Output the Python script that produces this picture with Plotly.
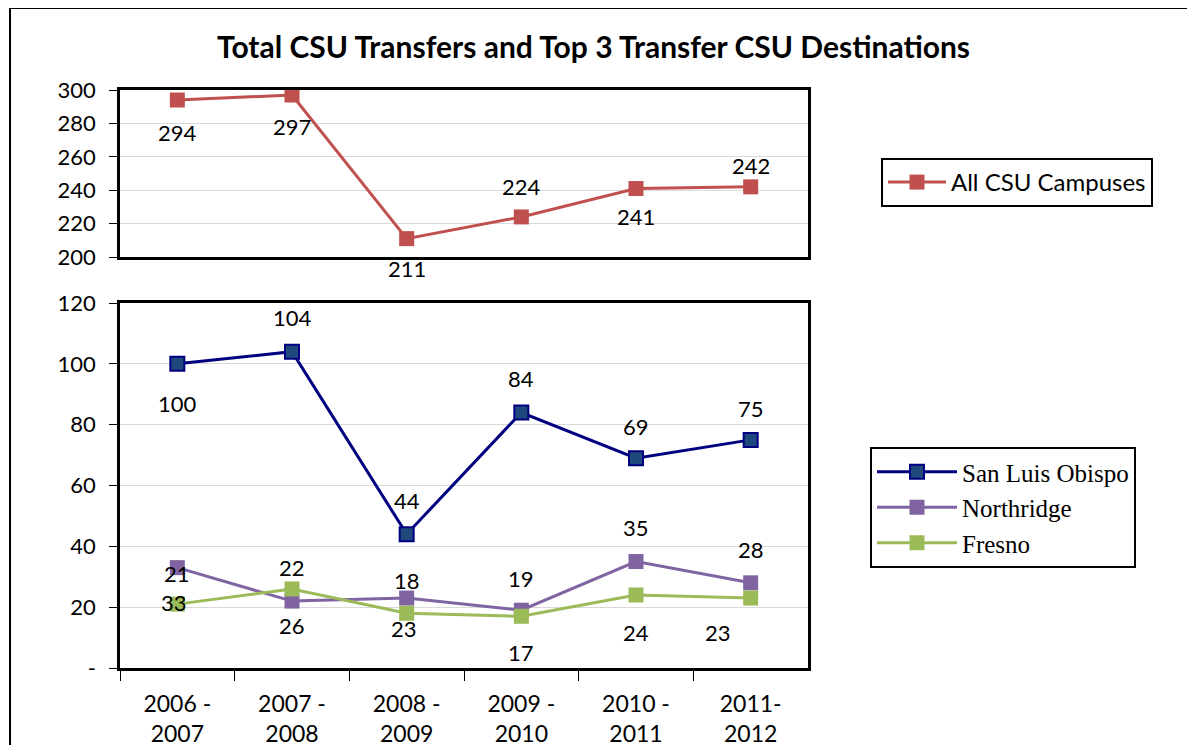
import plotly.graph_objects as go

# ---- data ----
years = ["2006 -<br>2007", "2007 -<br>2008", "2008 -<br>2009",
         "2009 -<br>2010", "2010 -<br>2011", "2011-<br>2012"]
all_csu = [294, 297, 211, 224, 241, 242]
slo = [100, 104, 44, 84, 69, 75]
northridge = [33, 22, 23, 19, 35, 28]
fresno = [21, 26, 18, 17, 24, 23]

# label offsets (pixels, + is up) copying the Excel label placement
all_shift = [-32, -31, -30, 30, -28, 21]
slo_shift = [-40, 34, 34, 34, 32, 31]
nr_shift = [-35, 34, -30, 32, 34, 33]
fr_shift = [31, -37, 33, -36, -37, -34]
fr_xshift = [0, 0, 0, 0, 0, -33]

RED = "#C0504D"
NAVY = "#000080"
SLO_FILL = "#1F497D"
PURPLE = "#8064A2"
GREEN = "#9BBB59"
FONT = "Lato, 'Open Sans', sans-serif"

W, H = 1195, 745
OFF = 8  # page body margin


def px_x(p):
    return (p - OFF) / W


def px_y(p):
    return 1 - (p - OFF) / H


fig = go.Figure()

fig.add_trace(go.Scatter(
    x=years, y=all_csu, mode="lines+markers", name="All CSU Campuses",
    line=dict(color=RED, width=3),
    marker=dict(symbol="square", size=15, color=RED),
    xaxis="x2", yaxis="y2", legend="legend"
))
fig.add_trace(go.Scatter(
    x=years, y=slo, mode="lines+markers", name="San Luis Obispo",
    line=dict(color=NAVY, width=3),
    marker=dict(symbol="square", size=14, color=SLO_FILL, line=dict(color=NAVY, width=2)),
    legend="legend2"
))
fig.add_trace(go.Scatter(
    x=years, y=northridge, mode="lines+markers", name="Northridge",
    line=dict(color=PURPLE, width=3),
    marker=dict(symbol="square", size=15, color=PURPLE),
    legend="legend2"
))
fig.add_trace(go.Scatter(
    x=years, y=fresno, mode="lines+markers", name="Fresno",
    line=dict(color=GREEN, width=3),
    marker=dict(symbol="square", size=15, color=GREEN),
    legend="legend2"
))

annotations = []
lab_font = dict(family=FONT, size=22, color="black")
for xv, yv, s in zip(years, all_csu, all_shift):
    annotations.append(dict(x=xv, y=yv, xref="x2", yref="y2", text=str(yv),
                            showarrow=False, yshift=s, font=lab_font))
for xv, yv, s in zip(years, slo, slo_shift):
    annotations.append(dict(x=xv, y=yv, xref="x", yref="y", text=str(yv),
                            showarrow=False, yshift=s, font=lab_font))
for xv, yv, s in zip(years, northridge, nr_shift):
    annotations.append(dict(x=xv, y=yv, xref="x", yref="y", text=str(yv),
                            showarrow=False, yshift=s, xshift=-3 if s < 0 else 0,
                            font=lab_font))
for xv, yv, s, xs in zip(years, fresno, fr_shift, fr_xshift):
    annotations.append(dict(x=xv, y=yv, xref="x", yref="y", text=str(yv),
                            showarrow=False, yshift=s, xshift=xs, font=lab_font))

annotations.append(dict(
    text="<b>Total CSU Transfers and Top 3 Transfer CSU Destinations</b>",
    x=px_x(593), y=px_y(46), xref="paper", yref="paper", showarrow=False,
    xanchor="center", yanchor="middle",
    font=dict(family=FONT, size=30, color="black")
))

axis_common = dict(
    showline=True, linecolor="black", linewidth=2.5, mirror=True,
    ticks="outside", tickcolor="black", ticklen=8, tickwidth=1,
    tickfont=dict(family=FONT, size=22, color="black"),
    gridcolor="#D9D9D9", gridwidth=1, zeroline=False, automargin=False
)
cat_range = [-0.5, len(years) - 0.5]

fig.update_layout(
    width=W, height=H,
    margin=dict(l=0, r=0, t=0, b=0),
    paper_bgcolor="white", plot_bgcolor="white",
    showlegend=True,
    annotations=annotations,
    xaxis=dict(domain=[px_x(120), px_x(808)], anchor="y", type="category",
               range=cat_range,
               tickson="boundaries", ticklen=10, showgrid=False, automargin=False,
               showline=True, linecolor="black", linewidth=2.5, mirror=True,
               ticks="outside", tickcolor="black", tickwidth=1,
               tickfont=dict(family=FONT, size=23, color="black"),
               ticklabelstandoff=14),
    yaxis=dict(domain=[px_y(668), px_y(303)], anchor="x",
               range=[0, 120], tickvals=[0, 20, 40, 60, 80, 100, 120],
               ticktext=["-", "20", "40", "60", "80", "100", "120"],
               ticklabelstandoff=9, **axis_common),
    xaxis2=dict(domain=[px_x(120), px_x(808)], anchor="y2", type="category",
                range=cat_range,
                showticklabels=False, ticks="", showgrid=False, automargin=False,
                showline=True, linecolor="black", linewidth=2.5, mirror=True),
    yaxis2=dict(domain=[px_y(257), px_y(90)], anchor="x2",
                range=[200, 300], dtick=20, ticklabelstandoff=9, **axis_common),
    legend=dict(x=px_x(881), y=px_y(158), xanchor="left", yanchor="top",
                bordercolor="black", borderwidth=2, bgcolor="white",
                font=dict(family=FONT, size=24, color="black"),
                itemwidth=58, tracegroupgap=0),
    legend2=dict(x=px_x(870), y=px_y(447), xanchor="left", yanchor="top",
                 bordercolor="black", borderwidth=2, bgcolor="white",
                 font=dict(family="Liberation Serif, serif", size=25, color="black"),
                 itemwidth=80, tracegroupgap=0),
    shapes=[dict(type="rect", xref="paper", yref="paper",
                 x0=px_x(10), x1=1.02, y0=-0.02, y1=px_y(8),
                 line=dict(color="black", width=2))]
)

fig.write_html("out.html")
